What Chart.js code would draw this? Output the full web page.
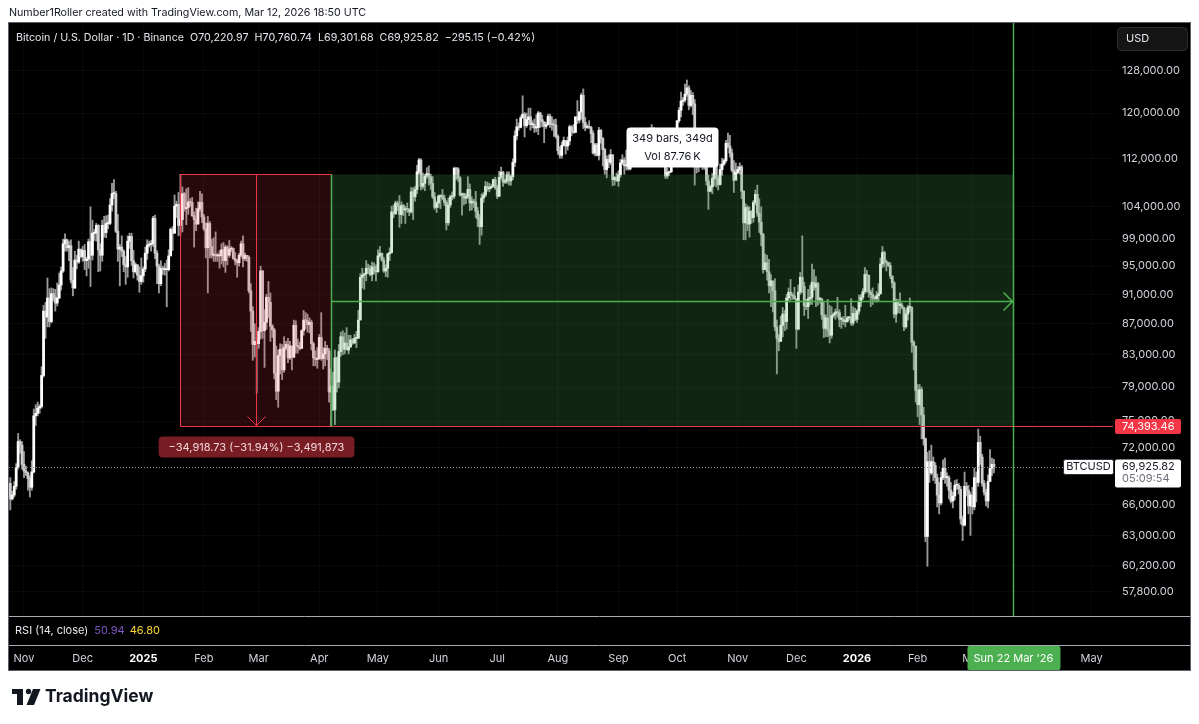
<!DOCTYPE html>
<html>
<head>
<meta charset="utf-8">
<script src="https://cdn.jsdelivr.net/npm/chart.js@4.4.1/dist/chart.umd.min.js"></script>
<style>
  html, body { margin: 0; padding: 0; background: #fff; }
  canvas { display: block; }
</style>
</head>
<body>
<canvas id="chart" width="1199" height="724"></canvas>
<script>
const FONT = 'Inter, "Noto Sans", sans-serif';

// day 0 = Nov 1 2024, first candle Oct 25 2024
const firstDay = -7;
const firstOpen = 68.2;

// daily candles, thousands of USD, one line per month
const closeK = [
  66.6,67.0,67.9,69.9,72.7,72.3,70.2,
  69.5,69.3,68.7,67.8,69.4,75.6,75.9,76.5,76.7,80.4,88.7,87.9,90.5,87.3,91.1,90.6,89.8,90.5,92.3,94.3,98.3,98.9,97.7,98.0,93.0,91.9,95.9,95.6,97.5,96.4,
  97.3,95.8,96.0,98.6,96.6,99.9,99.9,101.1,97.4,96.6,101.1,100.0,101.4,101.4,104.3,106.1,106.1,100.2,97.5,97.8,97.2,95.2,94.9,98.7,99.4,95.8,94.2,95.2,93.7,92.8,93.6,
  94.6,96.9,98.1,98.2,98.3,102.2,96.9,95.0,92.5,94.7,94.5,94.5,94.5,96.5,100.5,99.9,104.1,104.4,101.1,102.0,106.1,103.7,103.9,104.8,104.7,102.6,102.0,101.3,103.7,104.7,102.4,
  100.6,97.7,101.4,97.9,96.6,96.6,96.5,96.5,96.5,97.4,95.8,97.8,96.6,97.5,97.6,96.1,95.8,95.5,96.6,98.3,96.1,96.6,96.3,91.5,88.7,84.3,84.7,84.4,
  86.0,94.3,86.1,87.2,90.6,89.9,86.7,86.2,80.7,78.5,82.9,83.7,81.1,83.9,84.3,82.6,84.1,82.7,86.8,84.2,84.0,83.8,86.1,87.5,87.4,86.9,87.2,84.4,82.6,82.4,82.5,
  85.2,82.5,83.1,83.8,83.5,78.4,79.1,76.3,82.6,79.6,83.4,85.3,83.7,84.5,83.6,84.0,84.9,84.5,85.1,85.1,87.5,93.4,93.7,93.9,94.7,94.6,93.8,94.9,94.3,94.2,
  96.5,96.9,95.9,94.3,94.7,96.8,97.0,103.2,102.9,104.6,104.1,102.8,104.2,103.5,103.7,103.6,103.2,106.4,105.6,106.8,109.7,111.7,107.3,107.8,109.0,109.4,108.9,107.8,105.6,103.9,104.6,
  105.7,105.8,105.4,104.7,101.5,104.3,105.6,105.7,110.3,110.2,108.7,105.9,106.1,105.4,105.6,106.8,104.6,104.9,104.7,103.3,102.1,100.9,105.4,105.9,107.3,106.9,107.1,107.3,108.4,107.1,
  105.7,108.8,109.6,108.0,108.2,109.2,108.2,108.9,111.3,115.9,117.5,117.4,119.1,119.8,117.7,118.8,119.3,117.9,117.9,117.3,117.4,120.0,118.8,118.4,117.6,117.9,119.4,118.0,117.9,117.8,115.8,
  113.3,112.5,114.2,115.1,114.1,115.0,117.5,116.7,116.5,119.3,118.7,120.2,123.3,118.3,117.4,117.5,117.4,116.3,112.9,114.3,112.5,116.9,115.4,113.5,110.1,111.8,111.3,112.6,108.4,108.8,108.2,
  109.2,111.2,111.7,110.7,110.7,110.2,111.1,112.0,111.5,113.9,115.5,116.1,115.9,115.3,115.3,116.8,116.5,117.1,115.7,115.7,115.2,112.7,112.0,113.3,109.0,109.6,109.7,112.1,114.4,114.0,
  118.6,120.5,122.2,122.4,123.5,124.7,121.4,123.3,121.7,113.2,110.6,115.2,115.3,113.0,110.8,108.2,106.5,107.2,108.6,110.6,108.5,107.6,110.1,111.0,111.6,114.6,114.1,112.9,110.0,108.3,109.6,
  110.1,110.5,106.5,101.5,103.9,101.3,103.3,102.3,104.7,106.0,103.0,101.6,99.7,94.5,95.5,94.2,92.2,92.9,91.5,86.6,85.1,84.7,86.8,88.3,87.3,90.5,91.3,90.9,90.8,90.4,
  86.3,91.3,93.4,92.1,89.4,89.3,90.4,90.6,92.7,92.0,92.5,90.3,90.3,88.2,86.4,87.8,86.2,85.5,88.1,88.3,88.6,88.5,87.6,87.6,87.3,87.3,87.8,87.8,87.1,88.4,87.6,
  88.7,89.9,90.6,91.4,93.8,93.7,91.3,91.0,90.5,90.4,90.8,91.1,95.3,97.0,95.6,95.5,95.1,93.6,92.6,88.3,89.9,89.5,89.5,89.2,86.6,88.3,89.2,89.2,84.6,84.1,78.6,
  76.9,78.7,75.7,73.0,62.9,70.5,69.3,70.5,70.1,68.8,67.0,66.2,68.8,69.8,68.8,68.8,67.5,66.4,66.9,68.0,68.0,67.6,64.6,64.0,67.9,67.5,65.9,67.0,
  65.8,68.8,68.3,72.6,71.0,68.2,67.3,66.4,68.4,69.8,70.221,69.926
];
const highK = [
  68.8,67.4,68.4,70.3,73.6,72.9,72.7,
  71.6,70.0,69.4,69.0,70.6,76.4,76.9,77.2,76.9,81.5,89.5,89.9,93.3,91.8,91.9,91.8,91.7,92.6,94.0,94.9,99.0,99.8,99.0,98.7,98.9,94.8,97.2,96.6,98.7,97.5,
  97.9,98.2,96.3,99.0,104.0,101.9,100.5,101.4,101.2,98.3,101.9,102.5,102.6,102.7,105.3,107.8,108.4,106.5,102.8,98.2,99.5,97.4,96.4,99.5,99.9,99.9,97.3,95.5,95.2,94.9,96.2,
  94.9,97.8,98.9,98.7,98.8,102.5,102.7,97.3,95.3,95.8,95.0,95.4,95.9,97.4,100.7,100.9,105.9,104.9,106.3,109.3,107.2,106.3,106.9,107.1,105.3,105.5,103.2,103.8,104.8,106.5,106.1,
  102.8,101.5,102.5,101.7,99.0,99.2,100.1,96.9,97.3,98.3,98.5,98.1,98.0,98.8,97.9,97.7,97.0,96.0,96.9,98.7,99.5,96.9,96.5,96.5,92.5,89.3,87.0,85.1,
  86.5,95.0,94.4,88.9,91.0,92.8,91.2,86.9,86.4,84.1,83.6,84.4,84.3,85.3,84.7,85.1,84.7,84.1,87.5,87.4,85.0,84.6,86.2,88.8,88.5,88.3,87.8,87.5,84.6,83.5,83.9,
  85.6,88.5,83.9,84.7,84.2,83.8,81.2,80.8,83.6,82.7,84.3,85.9,86.1,85.8,86.5,85.5,85.5,85.1,85.6,86.0,88.8,93.9,94.7,94.0,95.8,95.3,95.1,95.6,95.5,95.2,
  97.4,97.9,96.9,96.3,95.2,96.9,97.7,104.1,104.3,104.9,104.9,105.8,104.8,104.4,104.1,104.6,103.7,107.1,107.1,107.3,110.8,112.0,111.9,109.5,109.3,110.4,110.7,109.3,108.9,106.3,104.9,
  105.9,105.9,106.8,105.9,105.0,105.4,105.9,106.4,110.5,110.4,110.4,108.9,106.2,106.2,106.1,108.9,107.7,105.6,105.2,106.5,103.9,102.8,106.1,106.3,108.1,108.0,107.8,107.6,108.5,108.8,
  107.5,109.8,110.5,109.8,108.5,109.7,109.7,109.2,111.9,116.8,118.9,118.2,119.5,123.2,120.1,120.0,120.9,120.9,118.6,118.9,119.7,120.3,120.1,119.6,118.4,118.3,119.8,119.8,119.3,118.8,118.9,
  116.1,114.0,114.8,115.7,115.1,115.7,117.8,117.7,117.9,119.3,122.3,120.3,123.7,124.5,119.2,117.9,118.6,117.6,116.8,114.6,114.6,117.4,117.0,115.6,113.7,112.4,112.6,113.5,112.6,108.9,109.5,
  109.9,111.8,112.6,112.1,113.4,110.9,111.5,112.9,113.2,114.3,115.6,116.6,116.5,116.1,116.8,117.0,117.3,117.9,117.4,116.2,115.9,115.4,113.3,114.0,113.4,110.3,109.8,112.3,114.4,114.8,
  118.6,121.0,123.9,122.9,125.4,126.2,125.1,124.2,123.8,122.5,113.4,115.8,116.0,115.8,113.5,111.4,109.2,107.5,109.4,111.7,114.0,109.1,111.0,112.0,111.9,115.1,116.4,116.0,113.6,111.6,111.2,
  110.6,111.2,110.8,106.6,104.5,104.2,104.0,103.4,105.0,106.7,107.5,105.3,104.0,99.9,96.8,96.6,96.0,93.8,92.8,93.2,87.5,85.6,88.0,89.2,88.8,91.0,91.9,93.1,91.2,92.0,
  90.4,92.3,94.1,99.5,92.7,90.3,91.7,92.3,95.3,94.5,93.5,92.7,90.6,90.5,90.0,88.2,90.3,89.5,89.3,88.5,89.0,90.6,88.9,87.9,88.0,89.5,88.0,88.0,90.4,89.3,89.1,
  88.9,90.9,91.0,91.8,94.8,94.4,93.6,91.6,91.9,90.8,91.4,92.5,96.2,97.9,97.2,95.9,95.6,95.5,93.4,92.8,90.4,90.3,91.2,89.8,89.2,88.9,89.5,90.5,89.3,84.8,84.1,
  79.3,79.3,79.0,76.6,73.1,71.5,71.7,72.3,71.0,70.4,69.2,68.3,69.4,70.7,70.9,69.3,69.0,68.3,67.3,68.5,68.6,68.2,67.9,64.9,69.4,68.3,68.0,67.3,
  67.8,69.8,69.4,74.1,73.3,71.3,68.5,67.6,69.1,71.8,70.9,70.761
];
const lowK = [
  65.5,66.5,66.8,67.6,69.7,71.4,69.7,
  68.8,69.0,67.5,66.8,67.5,69.3,74.5,75.6,75.9,76.5,80.2,85.1,86.6,86.6,87.1,90.1,88.7,89.4,90.4,91.6,94.1,97.2,97.2,95.8,92.6,90.8,91.8,94.6,95.4,96.2,
  95.7,94.5,93.6,94.7,92.1,95.9,98.8,98.7,94.2,94.3,95.7,99.3,99.2,100.6,101.2,103.3,105.3,100.0,95.7,92.2,96.4,94.2,92.4,93.4,97.6,95.1,93.3,94.0,93.0,91.3,92.4,
  92.7,94.2,96.0,97.8,97.2,97.9,96.1,92.5,91.2,92.2,93.8,93.7,89.3,94.3,96.5,97.3,99.9,102.3,99.5,99.6,100.1,103.3,101.2,102.8,104.1,102.5,97.8,100.3,101.3,103.3,101.5,
  100.3,96.2,91.2,96.2,96.2,95.7,95.7,95.7,94.7,95.3,94.9,94.1,95.2,96.3,97.1,96.0,95.2,93.4,95.0,96.4,94.9,95.8,95.7,91.2,86.0,82.3,82.7,78.3,
  83.8,85.0,85.1,81.4,86.3,87.8,84.7,85.2,80.0,77.5,76.6,80.6,79.9,80.8,83.6,82.0,82.4,81.1,82.6,83.2,83.2,83.6,83.8,85.5,86.3,85.9,85.8,83.6,81.6,81.6,81.3,
  82.4,82.3,81.2,81.6,82.4,77.2,74.4,76.2,74.6,78.4,78.9,82.8,83.0,83.1,83.6,83.1,83.9,84.3,84.4,83.9,85.1,87.6,91.9,91.7,92.9,93.9,93.6,92.9,93.9,92.9,
  94.1,96.3,95.7,94.1,93.5,93.4,95.8,96.9,102.3,102.8,103.4,100.8,101.4,102.6,101.4,103.1,102.6,103.0,102.0,104.9,106.1,109.3,106.7,106.9,106.6,108.6,107.5,106.8,105.3,103.6,103.1,
  103.9,103.7,105.1,104.2,100.4,101.1,103.9,105.1,105.3,108.4,108.1,105.7,102.7,104.3,104.5,105.3,103.4,103.5,103.9,102.3,100.9,98.2,99.6,104.7,105.6,106.5,106.4,106.9,107.2,106.8,
  105.3,105.6,108.5,107.3,107.8,107.8,107.5,107.5,108.4,110.6,115.2,116.9,117.3,119.1,115.7,117.4,117.9,116.9,117.3,116.5,116.6,116.1,117.4,117.5,114.7,117.2,117.8,117.4,116.9,115.8,115.5,
  112.7,112.0,112.0,114.1,112.7,113.4,114.3,115.9,116.3,116.5,118.1,118.2,118.9,117.2,116.8,117.2,117.2,114.7,112.7,112.4,112.4,111.7,114.6,110.7,109.3,108.7,110.4,110.9,107.4,107.5,108.1,
  107.3,108.8,110.9,109.3,110.0,110.0,110.0,110.6,110.8,110.9,113.4,114.7,115.7,114.8,114.4,114.7,114.7,116.8,115.2,115.5,115.2,111.9,111.2,111.5,108.6,108.6,109.1,109.6,111.6,113.2,
  113.9,118.3,119.3,121.4,122.0,123.1,120.6,121.1,119.7,107.5,109.5,109.7,113.8,110.1,110.1,107.5,103.6,106.4,106.1,107.4,107.2,106.7,107.5,109.1,110.8,111.3,113.8,112.2,109.7,106.3,108.6,
  109.4,109.3,105.3,98.9,98.9,100.3,99.3,101.4,101.6,104.3,102.5,100.0,98.0,94.0,94.5,93.0,91.2,89.3,88.6,86.1,80.6,83.5,84.7,85.3,86.1,86.3,90.1,90.2,90.3,90.3,
  83.8,86.2,91.0,91.2,88.1,88.9,87.7,89.6,89.6,91.6,89.3,89.5,89.8,87.6,85.2,85.3,85.3,84.5,85.1,87.8,87.6,87.9,86.6,86.4,86.9,86.6,87.2,87.5,86.8,86.8,87.4,
  87.2,88.3,89.3,90.3,91.1,91.3,90.6,89.3,89.6,90.1,89.9,90.0,91.0,94.8,94.9,94.3,94.9,93.2,91.9,87.8,87.2,88.5,88.4,89.0,86.1,86.4,87.5,88.6,83.3,81.1,77.2,
  75.5,74.6,73.0,72.3,62.4,60.1,68.3,69.1,68.5,68.2,65.8,65.1,66.0,68.6,68.2,67.9,66.6,66.2,65.7,66.5,67.6,67.1,64.1,62.5,63.9,66.9,65.1,63.0,
  65.1,65.5,66.3,67.9,70.2,67.9,67.0,65.9,65.7,68.6,69.0,69.302
];

const monthTickDays = [0, 30, 61, 92, 120, 151, 181, 212, 242, 273, 304, 334, 365, 395, 426, 457, 485, 516, 546];
const monthTickLabels = ['Nov', 'Dec', '2025', 'Feb', 'Mar', 'Apr', 'May', 'Jun', 'Jul', 'Aug', 'Sep', 'Oct', 'Nov', 'Dec', '2026', 'Feb', 'Mar', 'Apr', 'May'];
const priceTicks = [57800, 60200, 63000, 66000, 72000, 75000, 79000, 83000, 87000, 91000, 95000, 99000, 104000, 112000, 120000, 128000];

// drawings on the chart
const rangeTop = 109312.19;
const rangeBottom = 74393.46;
const redStartDay = 80;    // Jan 20 2025
const redEndDay = 157;     // Apr 7 2025
const greenEndDay = 506;   // Mar 22 2026
const lastPrice = 69925.82;

const legendParts = ['Bitcoin / U.S. Dollar · 1D · Binance', 'O70,220.97', 'H70,760.74', 'L69,301.68', 'C69,925.82', '\u2212295.15 (\u22120.42%)'];

const candles = closeK.map(function(c, i) {
  const o = i === 0 ? firstOpen : closeK[i - 1];
  return { x: firstDay + i, o: o * 1000, c: c * 1000, h: highK[i] * 1000, l: lowK[i] * 1000 };
});

function fmt(v) {
  return v.toLocaleString('en-US', { minimumFractionDigits: 2, maximumFractionDigits: 2 });
}

function isYear(label) {
  return /^\d/.test(label);
}

function rrect(ctx, x, y, w, h, r) {
  ctx.beginPath();
  ctx.moveTo(x + r, y);
  ctx.arcTo(x + w, y, x + w, y + h, r);
  ctx.arcTo(x + w, y + h, x, y + h, r);
  ctx.arcTo(x, y + h, x, y, r);
  ctx.arcTo(x, y, x + w, y, r);
  ctx.closePath();
}

const background = {
  id: 'background',
  beforeDraw(chart) {
    const ctx = chart.ctx;
    ctx.save();
    ctx.fillStyle = '#ffffff';
    ctx.fillRect(0, 0, chart.width, chart.height);
    ctx.fillStyle = '#000000';
    ctx.fillRect(9, 22, 1181, 648);
    ctx.fillStyle = '#131722';
    ctx.font = '10.7px ' + FONT;
    ctx.textBaseline = 'middle';
    ctx.fillText('Number1Roller created with TradingView.com, Mar 12, 2026 18:50 UTC', 9, 13);
    ctx.restore();
  }
};

const drawings = {
  id: 'drawings',
  afterDatasetsDraw(chart) {
    const ctx = chart.ctx;
    const a = chart.chartArea;
    const x = chart.scales.x, y = chart.scales.y;
    const xr0 = Math.round(x.getPixelForValue(redStartDay)) + 0.5;
    const xr1 = Math.round(x.getPixelForValue(redEndDay)) + 0.5;
    const xg1 = Math.round(x.getPixelForValue(greenEndDay)) + 0.5;
    const yt = Math.round(y.getPixelForValue(rangeTop)) + 0.5;
    const yb = Math.round(y.getPixelForValue(rangeBottom)) + 0.5;
    const xm = Math.round((xr0 + xr1) / 2) + 0.5;
    const ym = Math.round((yt + yb) / 2) + 0.5;
    const yp = Math.round(y.getPixelForValue(lastPrice)) + 0.5;

    ctx.save();
    ctx.beginPath();
    ctx.rect(a.left, a.top, a.right - a.left, a.bottom - a.top);
    ctx.clip();

    ctx.fillStyle = 'rgba(242,54,69,0.16)';
    ctx.fillRect(xr0, yt, xr1 - xr0, yb - yt);
    ctx.fillStyle = 'rgba(76,175,80,0.22)';
    ctx.fillRect(xr1, yt, xg1 - xr1, yb - yt);

    // last price dotted line
    ctx.strokeStyle = '#8f8f8f';
    ctx.lineWidth = 1;
    ctx.setLineDash([1, 2]);
    ctx.beginPath();
    ctx.moveTo(a.left, yp);
    ctx.lineTo(a.right, yp);
    ctx.stroke();
    ctx.setLineDash([]);

    // red price range
    ctx.strokeStyle = '#f23645';
    ctx.lineWidth = 1;
    ctx.beginPath();
    ctx.moveTo(xr0, yb); ctx.lineTo(xr0, yt); ctx.lineTo(xr1, yt);
    ctx.moveTo(xr0, yb); ctx.lineTo(a.right, yb);
    ctx.moveTo(xm, yt); ctx.lineTo(xm, yb);
    ctx.moveTo(xm - 9, yb - 10); ctx.lineTo(xm, yb - 1); ctx.lineTo(xm + 9, yb - 10);
    ctx.stroke();

    // green date range
    ctx.strokeStyle = '#4caf50';
    ctx.lineWidth = 1.5;
    ctx.beginPath();
    ctx.moveTo(xr1, yt); ctx.lineTo(xr1, yb);
    ctx.moveTo(xr1, ym); ctx.lineTo(xg1, ym);
    ctx.moveTo(xg1 - 10, ym - 9); ctx.lineTo(xg1 - 1, ym); ctx.lineTo(xg1 - 10, ym + 9);
    ctx.moveTo(xg1, a.top); ctx.lineTo(xg1, a.bottom);
    ctx.stroke();
    ctx.restore();

    // label under the red range
    ctx.save();
    const diff = rangeBottom - rangeTop;
    const pct = diff / rangeTop * 100;
    const txt = '\u2212' + fmt(-diff) + ' (\u2212' + (-pct).toFixed(2) + '%) \u2212' + Math.round(-diff * 100).toLocaleString('en-US');
    ctx.font = '11px ' + FONT;
    const tw = ctx.measureText(txt).width + 20;
    ctx.fillStyle = '#791d24';
    rrect(ctx, xm - tw / 2, yb + 10, tw, 21, 4);
    ctx.fill();
    ctx.fillStyle = '#f1d7da';
    ctx.textAlign = 'center';
    ctx.textBaseline = 'middle';
    ctx.fillText(txt, xm, yb + 21);

    // label above the green range
    const xc = (xr1 + xg1) / 2;
    ctx.fillStyle = '#ffffff';
    rrect(ctx, xc - 46, yt - 47, 92, 40, 4);
    ctx.fill();
    ctx.fillStyle = '#131722';
    ctx.fillText((greenEndDay - redEndDay) + ' bars, ' + (greenEndDay - redEndDay) + 'd', xc, yt - 36);
    ctx.fillText('Vol 87.76\u2009K', xc, yt - 18);
    ctx.restore();
  }
};

const overlay = {
  id: 'overlay',
  afterDraw(chart) {
    const ctx = chart.ctx;
    const x = chart.scales.x, y = chart.scales.y;
    ctx.save();
    ctx.textBaseline = 'middle';

    // pane separators and frame
    ctx.strokeStyle = '#a7aab3';
    ctx.lineWidth = 1;
    ctx.beginPath();
    ctx.moveTo(9, 616.5); ctx.lineTo(1190, 616.5);
    ctx.moveTo(9, 645.5); ctx.lineTo(1190, 645.5);
    ctx.stroke();
    ctx.strokeStyle = '#5d606b';
    ctx.strokeRect(8.5, 22.5, 1182, 648);

    // time axis labels
    ctx.textAlign = 'center';
    monthTickDays.forEach(function(d, i) {
      const lab = monthTickLabels[i];
      ctx.font = (isYear(lab) ? '700 ' : '') + '11px ' + FONT;
      ctx.fillStyle = isYear(lab) ? '#ffffff' : '#d1d4dc';
      ctx.fillText(lab, x.getPixelForValue(d), 659);
    });
    ctx.textAlign = 'left';

    // legend
    ctx.font = '10.7px ' + FONT;
    ctx.fillStyle = '#e6e8ee';
    let lx = 16;
    legendParts.forEach(function(p) {
      ctx.fillText(p, lx, 38);
      lx += ctx.measureText(p).width + 6;
    });

    // currency button
    ctx.font = '11px ' + FONT;
    ctx.fillStyle = '#151515';
    rrect(ctx, 1117.5, 27.5, 70, 23, 4);
    ctx.fill();
    ctx.strokeStyle = '#2a2a2a';
    ctx.stroke();
    ctx.fillStyle = '#e6e8ee';
    ctx.fillText('USD', 1126, 39);

    // red price label
    const yb = y.getPixelForValue(rangeBottom);
    ctx.fillStyle = '#f23645';
    rrect(ctx, 1115, yb - 7.5, 66, 15, 2);
    ctx.fill();
    ctx.fillStyle = '#ffffff';
    ctx.fillText(fmt(rangeBottom), 1122, yb);

    // last price labels
    const yp = y.getPixelForValue(lastPrice);
    ctx.fillStyle = '#ffffff';
    ctx.strokeStyle = '#2a2e39';
    rrect(ctx, 1063.5, yp - 7.5, 50, 15, 2);
    ctx.fill();
    ctx.stroke();
    rrect(ctx, 1115, yp - 7.5, 66, 28, 2);
    ctx.fill();
    ctx.fillStyle = '#131722';
    ctx.textAlign = 'center';
    ctx.fillText('BTCUSD', 1088.5, yp);
    ctx.textAlign = 'left';
    ctx.fillText(fmt(lastPrice), 1122, yp);
    ctx.fillStyle = '#6a6d78';
    ctx.fillText('05:09:54', 1122, yp + 12);

    // RSI pane title
    ctx.fillStyle = '#e6e8ee';
    ctx.fillText('RSI (14, close)', 15, 631);
    let rx = 15 + ctx.measureText('RSI (14, close)').width + 6;
    ctx.fillStyle = '#7e57c2';
    ctx.fillText('50.94', rx, 631);
    rx += ctx.measureText('50.94').width + 5;
    ctx.fillStyle = '#fdd835';
    ctx.fillText('46.80', rx, 631);

    // date label on the time axis
    const xg = x.getPixelForValue(greenEndDay);
    ctx.fillStyle = '#4caf50';
    rrect(ctx, xg - 46, 646, 93, 24, 2);
    ctx.fill();
    ctx.fillStyle = '#ffffff';
    ctx.textAlign = 'center';
    ctx.fillText("Sun 22 Mar '26", xg, 659);

    // TradingView mark
    ctx.fillStyle = '#131722';
    ctx.fillRect(12, 689, 11, 5);
    ctx.fillRect(17, 689, 6, 16);
    ctx.beginPath();
    ctx.arc(28.5, 691.5, 2.7, 0, Math.PI * 2);
    ctx.fill();
    ctx.beginPath();
    ctx.moveTo(33, 689); ctx.lineTo(40.5, 689); ctx.lineTo(34, 705); ctx.lineTo(26.5, 705);
    ctx.closePath();
    ctx.fill();
    ctx.textAlign = 'left';
    ctx.font = '700 17.5px ' + FONT;
    ctx.fillText('TradingView', 45, 697);
    ctx.restore();
  }
};

new Chart(document.getElementById('chart'), {
  type: 'bar',
  data: {
    datasets: [
      {
        label: 'wick',
        data: candles.map(k => ({ x: k.x, y: [k.l, k.h] })),
        backgroundColor: '#9a9a9a',
        barThickness: 1.2,
        grouped: false,
        order: 2
      },
      {
        label: 'body',
        data: candles.map(k => ({ x: k.x, y: [k.o, k.c] })),
        backgroundColor: ctx => candles[ctx.dataIndex].c >= candles[ctx.dataIndex].o ? '#ffffff' : '#cfcfcf',
        barThickness: 2.1,
        minBarLength: 1,
        grouped: false,
        order: 1
      }
    ]
  },
  options: {
    responsive: false,
    animation: false,
    events: [],
    layout: { padding: { left: 9, top: 22, right: 0, bottom: 0 }, autoPadding: false },
    plugins: { legend: { display: false }, tooltip: { enabled: false } },
    scales: {
      x: {
        type: 'linear',
        min: -7.67,
        max: 556.9,
        offset: false,
        afterBuildTicks: s => { s.ticks = monthTickDays.map(v => ({ value: v })); },
        afterFit: s => { s.height = 108; s.paddingLeft = 0; s.paddingRight = 0; },
        grid: { color: 'rgba(255,255,255,0.035)', drawTicks: false, offset: false },
        border: { display: false },
        ticks: { display: false }
      },
      y: {
        type: 'logarithmic',
        position: 'right',
        min: 55710,
        max: 137880,
        afterBuildTicks: s => { s.ticks = priceTicks.map(v => ({ value: v })); },
        afterFit: s => { s.width = 86; },
        grid: { color: 'rgba(255,255,255,0.035)', drawTicks: false },
        border: { display: false },
        ticks: {
          padding: 9,
          color: '#d1d4dc',
          font: { family: FONT, size: 11 },
          callback: v => fmt(v)
        }
      }
    }
  },
  plugins: [background, drawings, overlay]
});
</script>
</body>
</html>
